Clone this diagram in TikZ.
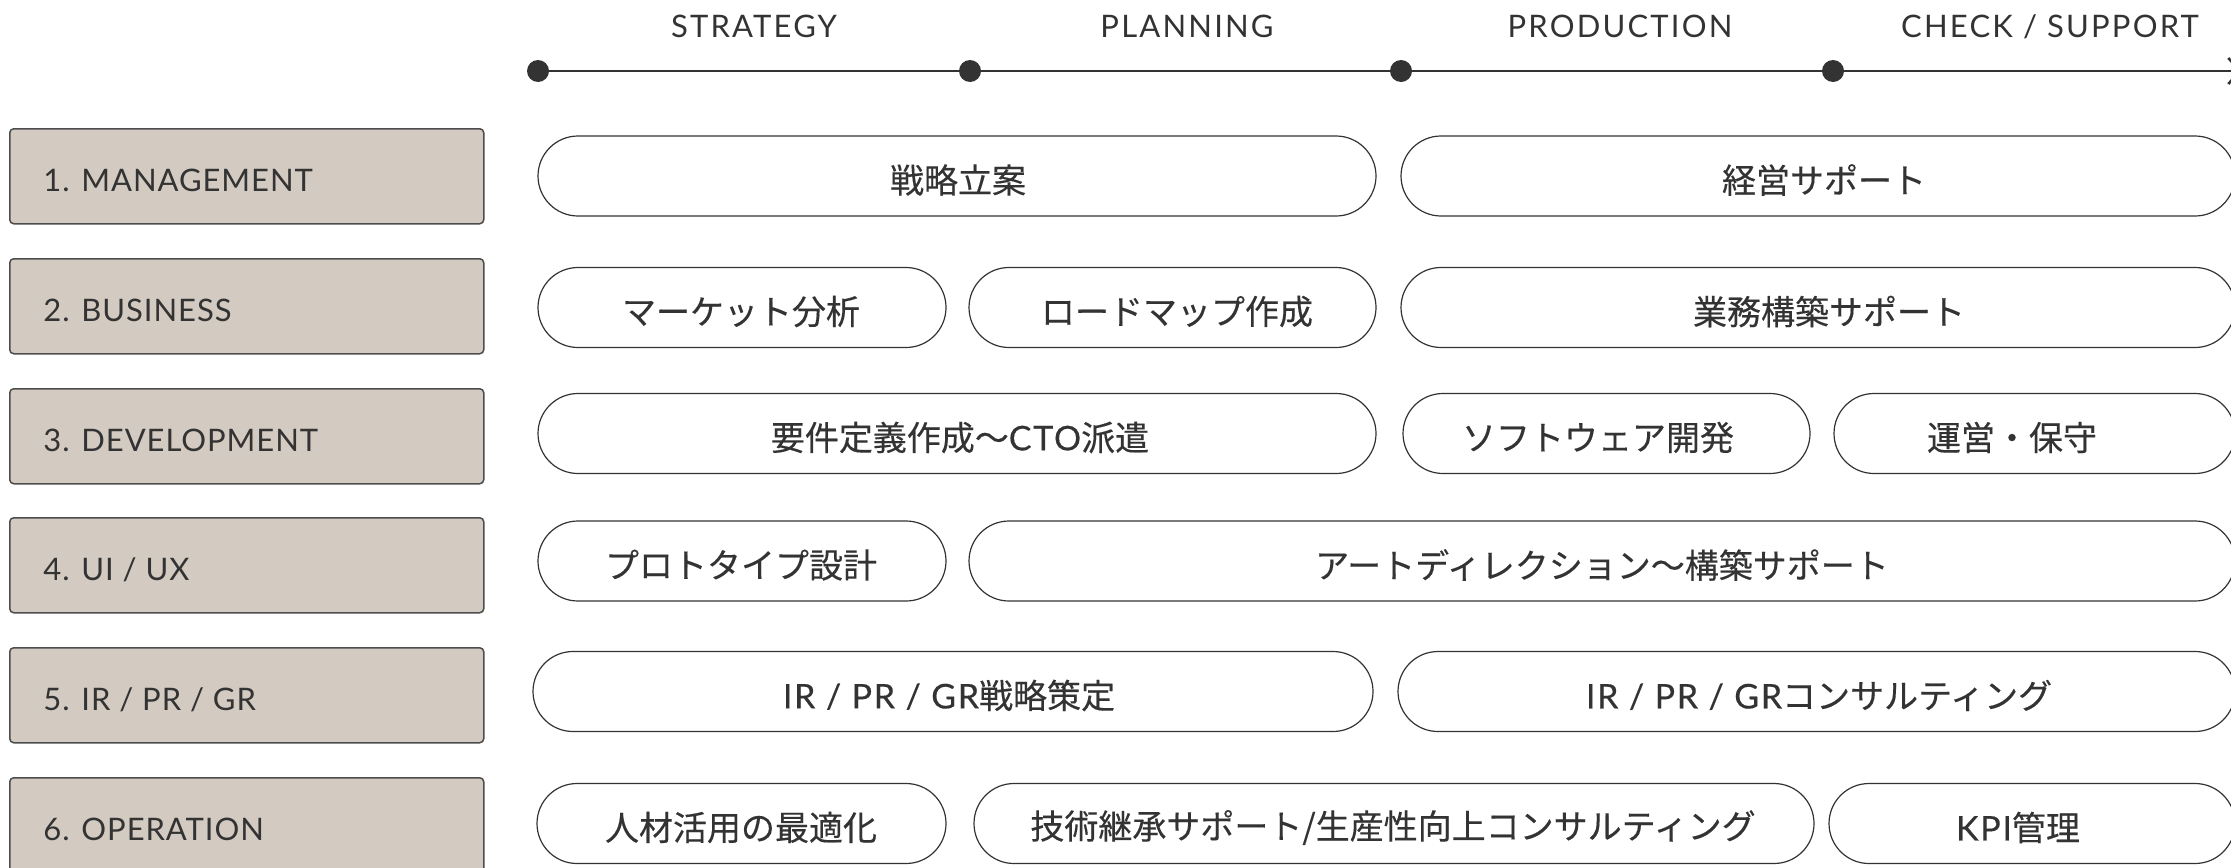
\documentclass[tikz,border=0pt]{standalone}
\usepackage{fontspec}
\usetikzlibrary{shapes.misc,arrows.meta}
\newfontfamily\lathead{Lato}[LetterSpace=7]
\newfontfamily\latcat{Lato}[LetterSpace=3]
\newfontfamily\lat{Lato}[LetterSpace=5,FakeBold=0.3]
\newfontfamily\jp{Noto Sans CJK JP}[FakeBold=0.3]
\definecolor{ink}{HTML}{333333}
\definecolor{boxfill}{HTML}{D3CAC1}
\definecolor{boxline}{HTML}{4D4D4D}
\begin{document}
\begin{tikzpicture}[x=0.5pt,y=-0.5pt,
  catbox/.style={draw=boxline, fill=boxfill, line width=0.75pt, rounded corners=2pt,
    minimum width=237pt, minimum height=47.5pt, inner sep=0, anchor=north west},
  catlbl/.style={anchor=base west, text=ink, font=\latcat\fontsize{15.5pt}{18pt}\selectfont, inner sep=0},
  pill/.style={draw=ink, line width=0.6pt, rounded rectangle, minimum height=40pt, inner sep=0},
  ptext/.style={text=ink, font=\jp\fontsize{17pt}{20pt}\selectfont, inner sep=0},
  phase/.style={anchor=base, text=ink, font=\lathead\fontsize{15.5pt}{18pt}\selectfont, inner sep=0},
  tdot/.style={circle, fill=ink, minimum size=11pt, inner sep=0},
  tline/.style={draw=ink, line width=1.3pt},
]
\useasboundingbox (0,0) rectangle (2231,867);
\clip (0,0) rectangle (2231,867);

% timeline
\node[phase] (ph1) at (754,37) {STRATEGY};
\node[phase] (ph2) at (1187,37) {PLANNING};
\node[phase] (ph3) at (1620,37) {PRODUCTION};
\node[phase] (ph4) at (2050,37) {CHECK / SUPPORT};
\node[tdot] (d1) at (538,71) {};
\node[tdot] (d2) at (970,71) {};
\node[tdot] (d3) at (1401,71) {};
\node[tdot] (d4) at (1833,71) {};
\coordinate (tend) at (2242,71);
\draw[tline] (d1) -- (d2);
\draw[tline] (d2) -- (d3);
\draw[tline] (d3) -- (d4);
\draw[tline, -{Straight Barb[length=6pt,width=13pt]}] (d4) -- (tend);

% category boxes
\node[catbox] (c1) at (9,128) {};
\node[catbox] (c2) at (9,258) {};
\node[catbox] (c3) at (9,388) {};
\node[catbox] (c4) at (9,517) {};
\node[catbox] (c5) at (9,647) {};
\node[catbox] (c6) at (9,777) {};
\node[catlbl] (l1) at (43,191) {1. MANAGEMENT};
\node[catlbl] (l2) at (43,321) {2. BUSINESS};
\node[catlbl] (l3) at (43,451) {3. DEVELOPMENT};
\node[catlbl] (l4) at (43,580) {4. UI / UX};
\node[catlbl] (l5) at (43,710) {5. IR / PR / GR};
\node[catlbl] (l6) at (43,840) {6. OPERATION};

% row 1
\node[pill, minimum width=419pt] (p1a) at (957,176) {};
\node[pill, minimum width=417pt] (p1b) at (1818,176) {};
\node[ptext] (t1a) at (958,180) {戦略立案};
\node[ptext] (t1b) at (1824,180) {経営サポート};
% row 2
\node[pill, minimum width=204pt] (p2a) at (742,307.5) {};
\node[pill, minimum width=203.5pt] (p2b) at (1172.5,307.5) {};
\node[pill, minimum width=417pt] (p2c) at (1818,307.5) {};
\node[ptext] (t2a) at (741,311.5) {マーケット分析};
\node[ptext] (t2b) at (1177,311.5) {ロードマップ作成};
\node[ptext] (t2c) at (1829,311.5) {業務構築サポート};
% row 3
\node[pill, minimum width=419pt] (p3a) at (957,433.5) {};
\node[pill, minimum width=203.5pt] (p3b) at (1606.5,433.5) {};
\node[pill, minimum width=200.5pt] (p3c) at (2034.5,433.5) {};
\node[ptext] (t3a) at (960,437.5) {要件定義作成〜{\lat CTO}派遣};
\node[ptext] (t3b) at (1598,437.5) {ソフトウェア開発};
\node[ptext] (t3c) at (2012,437.5) {運営・保守};
% row 4
\node[pill, minimum width=204pt] (p4a) at (742,561) {};
\node[pill, minimum width=633pt] (p4b) at (1602,561) {};
\node[ptext] (t4a) at (741,565) {プロトタイプ設計};
\node[ptext] (t4b) at (1602,565) {アートディレクション〜構築サポート};
% row 5
\node[pill, minimum width=420pt] (p5a) at (953,691.5) {};
\node[pill, minimum width=418.5pt] (p5b) at (1816.5,691.5) {};
\node[ptext] (t5a) at (949,695.5) {{\lat IR / PR / GR}戦略策定};
\node[ptext] (t5b) at (1819,695.5) {{\lat IR / PR / GR}コンサルティング};
% row 6
\node[pill, minimum width=204.5pt] (p6a) at (741.5,823.5) {};
\node[pill, minimum width=420pt] (p6b) at (1394,823.5) {};
\node[pill, minimum width=203pt] (p6c) at (2032,823.5) {};
\node[ptext] (t6a) at (741,827.5) {人材活用の最適化};
\node[ptext] (t6b) at (1393,827.5) {技術継承サポート/生産性向上コンサルティング};
\node[ptext] (t6c) at (2018,827.5) {{\lat KPI}管理};
\end{tikzpicture}
\end{document}
